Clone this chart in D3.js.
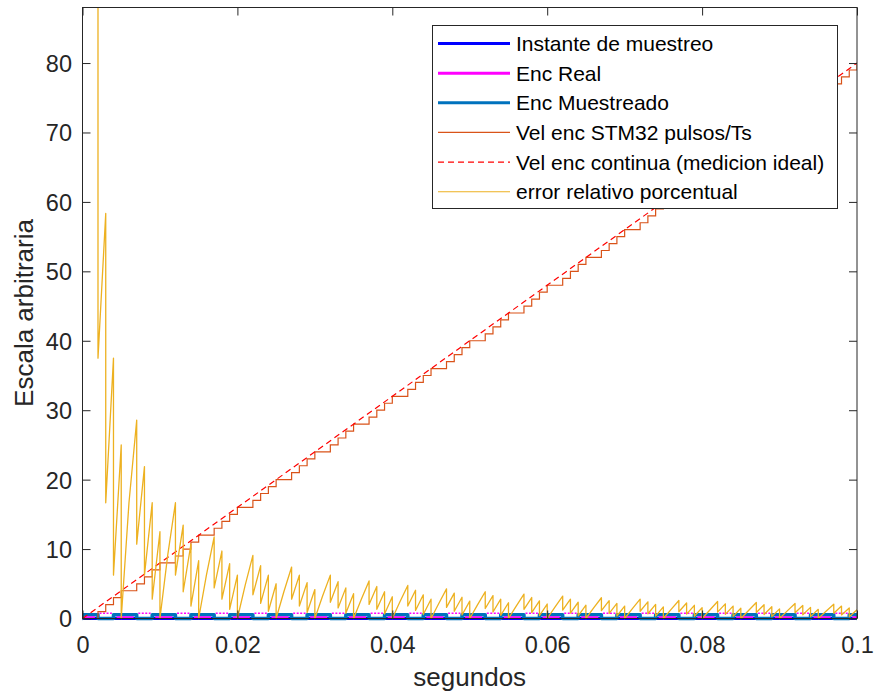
<!DOCTYPE html>
<html>
<head>
<meta charset="utf-8">
<script src="https://cdn.jsdelivr.net/npm/d3@7"></script>
<style>
  html, body { margin: 0; padding: 0; background: #fff; }
  svg { display: block; font-family: "Liberation Sans", Arial, Helvetica, sans-serif; }
</style>
</head>
<body>
<svg id="chart" width="875" height="694"></svg>
<script>
// ---- axis ticks ----
const xTicksMs = [0, 20, 40, 60, 80, 100];
const xTickLabels = ["0", "0.02", "0.04", "0.06", "0.08", "0.1"];
const yTicks = [0, 10, 20, 30, 40, 50, 60, 70, 80];
const yMax = 88;

// ---- series (time in ms, sample period 1 ms) ----
// STM32 velocity: pulses counted per sample period
const velSTM32 = [
  0, 0, 1, 2, 3,   4, 4, 5, 6, 7,   8, 8, 9, 10, 11,   12, 12, 13, 14, 15,
  16, 16, 17, 18, 19,   20, 20, 21, 22, 23,   24, 24, 25, 26, 27,   28, 28, 29, 30, 31,
  32, 32, 33, 34, 35,   36, 36, 37, 38, 39,   40, 40, 41, 42, 43,   44, 44, 45, 46, 47,
  48, 48, 49, 50, 51,   52, 52, 53, 54, 55,   56, 56, 57, 58, 59,   60, 60, 61, 62, 63,
  64, 64, 65, 66, 67,   68, 68, 69, 70, 71,   72, 72, 73, 74, 75,   76, 76, 77, 78, 79,
  80
];
const sampleStepMs = 1;

// Continuous (ideal) velocity
const idealTimeMs = [0, 100];
const idealVel = [0, 80];

// Relative error (%) between ideal and measured velocity
const errTimeMs = [
  0, 2, 2, 3, 3, 4, 4, 5,
  5, 6, 7, 7, 8, 8, 9, 9, 10,
  10, 11, 12, 12, 13, 13, 14, 14, 15,
  15, 16, 17, 17, 18, 18, 19, 19, 20,
  20, 21, 22, 22, 23, 23, 24, 24, 25,
  25, 26, 27, 27, 28, 28, 29, 29, 30,
  30, 31, 32, 32, 33, 33, 34, 34, 35,
  35, 36, 37, 37, 38, 38, 39, 39, 40,
  40, 41, 42, 42, 43, 43, 44, 44, 45,
  45, 46, 47, 47, 48, 48, 49, 49, 50,
  50, 51, 52, 52, 53, 53, 54, 54, 55,
  55, 56, 57, 57, 58, 58, 59, 59, 60,
  60, 61, 62, 62, 63, 63, 64, 64, 65,
  65, 66, 67, 67, 68, 68, 69, 69, 70,
  70, 71, 72, 72, 73, 73, 74, 74, 75,
  75, 76, 77, 77, 78, 78, 79, 79, 80,
  80, 81, 82, 82, 83, 83, 84, 84, 85,
  85, 86, 87, 87, 88, 88, 89, 89, 90,
  90, 91, 92, 92, 93, 93, 94, 94, 95,
  95, 96, 97, 97, 98, 98, 99, 99, 100
];
const errPct = [
  100, 100, 37.5, 58.33, 16.67, 37.5, 6.25, 25,
  0, 16.67, 28.57, 10.71, 21.88, 6.25, 16.67, 2.78, 12.5,
  0, 9.09, 16.67, 6.25, 13.46, 3.85, 10.71, 1.79, 8.33,
  0, 6.25, 11.76, 4.41, 9.72, 2.78, 7.89, 1.32, 6.25,
  0, 4.76, 9.09, 3.41, 7.61, 2.17, 6.25, 1.04, 5,
  0, 3.85, 7.41, 2.78, 6.25, 1.79, 5.17, 0.86, 4.17,
  0, 3.23, 6.25, 2.34, 5.30, 1.52, 4.41, 0.74, 3.57,
  0, 2.78, 5.41, 2.03, 4.61, 1.32, 3.85, 0.64, 3.13,
  0, 2.44, 4.76, 1.79, 4.07, 1.16, 3.41, 0.57, 2.78,
  0, 2.17, 4.26, 1.60, 3.65, 1.04, 3.06, 0.51, 2.5,
  0, 1.96, 3.85, 1.44, 3.30, 0.94, 2.78, 0.46, 2.27,
  0, 1.79, 3.51, 1.32, 3.02, 0.86, 2.54, 0.42, 2.08,
  0, 1.64, 3.23, 1.21, 2.78, 0.79, 2.34, 0.39, 1.92,
  0, 1.52, 2.99, 1.12, 2.57, 0.74, 2.17, 0.36, 1.79,
  0, 1.41, 2.78, 1.04, 2.40, 0.68, 2.03, 0.34, 1.67,
  0, 1.32, 2.60, 0.97, 2.24, 0.64, 1.90, 0.32, 1.56,
  0, 1.23, 2.44, 0.91, 2.11, 0.60, 1.79, 0.30, 1.47,
  0, 1.16, 2.30, 0.86, 1.99, 0.57, 1.69, 0.28, 1.39,
  0, 1.10, 2.17, 0.82, 1.88, 0.54, 1.60, 0.27, 1.32,
  0, 1.04, 2.06, 0.77, 1.79, 0.51, 1.52, 0.25, 1.25
];

// Encoder signals near zero (intervals in ms)
const muestreadoLevel = 0.55;
const muestreadoOn = [
  [0, 2], [4, 7], [9, 12], [14, 17], [19, 22], [24, 27], [29, 32], [34, 37],
  [39, 42], [44, 47], [49, 52], [54, 57], [59, 62], [64, 67], [69, 72], [74, 77],
  [79, 82], [84, 87], [89, 92], [94, 97], [99, 100]
];
const realLowLevel = 0.15;
const realLow = [
  [0.3, 1.6], [4.4, 6.6], [9.4, 11.6], [14.4, 16.6], [19.4, 21.6], [24.4, 26.6],
  [29.4, 31.6], [34.4, 36.6], [39.4, 41.6], [44.4, 46.6], [49.4, 51.6], [54.4, 56.6],
  [59.4, 61.6], [64.4, 66.6], [69.4, 71.6], [74.4, 76.6], [79.4, 81.6], [84.4, 86.6],
  [89.4, 91.6], [94.4, 96.6], [99.4, 100]
];
const realHighLevel = 0.75;
const realHigh = [
  [2.2, 3.8], [7.2, 8.8], [12.2, 13.8], [17.2, 18.8], [22.2, 23.8], [27.2, 28.8],
  [32.2, 33.8], [37.2, 38.8], [42.2, 43.8], [47.2, 48.8], [52.2, 53.8], [57.2, 58.8],
  [62.2, 63.8], [67.2, 68.8], [72.2, 73.8], [77.2, 78.8], [82.2, 83.8], [87.2, 88.8],
  [92.2, 93.8], [97.2, 98.8]
];

// ---- legend ----
const legendLabels = [
  "Instante de muestreo", "Enc Real", "Enc Muestreado",
  "Vel enc STM32 pulsos/Ts", "Vel enc continua (medicion ideal)", "error relativo porcentual"
];

// ---- layout ----
const plot = { left: 82.5, right: 857, top: 7.5, bottom: 618.5 };
const axisColor = "#262626";
const C = {
  instante: "#0000FF", real: "#FF00FF", muestreado: "#0072BD",
  stm32: "#D95319", ideal: "#FF0000", error: "#EDB120"
};

const svg = d3.select("#chart");
const x = d3.scaleLinear().domain([0, 100]).range([plot.left, plot.right]);
const y = d3.scaleLinear().domain([0, yMax]).range([plot.bottom, plot.top]);

svg.append("defs").append("clipPath").attr("id", "clip")
  .append("rect")
  .attr("x", plot.left).attr("y", plot.top)
  .attr("width", plot.right - plot.left)
  .attr("height", plot.bottom - plot.top + 3);

const g = svg.append("g").attr("clip-path", "url(#clip)");
const line = d3.line().x(d => x(d[0])).y(d => y(d[1]));

// Sampling instants baseline
g.append("path")
  .attr("d", line([[0, 0], [100, 0]]))
  .attr("fill", "none").attr("stroke", C.instante).attr("stroke-width", 3);

// Encoder real: dashes at the high level
realHigh.forEach(([a, b]) => {
  g.append("path")
    .attr("d", line([[a, realHighLevel], [b, realHighLevel]]))
    .attr("fill", "none").attr("stroke", C.real).attr("stroke-width", 1.4)
    .attr("stroke-dasharray", "2,1.5");
});

// Encoder sampled square wave
const mPts = [[0, 0]];
muestreadoOn.forEach(([a, b]) => {
  mPts.push([a, 0], [a, muestreadoLevel], [b, muestreadoLevel], [b, 0]);
});
mPts.push([100, 0]);
g.append("path")
  .attr("d", line(mPts))
  .attr("fill", "none").attr("stroke", C.muestreado).attr("stroke-width", 3.5)
  .attr("stroke-linejoin", "round").attr("stroke-linecap", "round");

// Encoder real: thick segments at the low level
realLow.forEach(([a, b]) => {
  g.append("path")
    .attr("d", line([[a, realLowLevel], [b, realLowLevel]]))
    .attr("fill", "none").attr("stroke", C.real).attr("stroke-width", 2.5);
});

// STM32 velocity staircase
g.append("path")
  .datum(velSTM32.map((v, i) => [i * sampleStepMs, v]))
  .attr("d", d3.line().x(d => x(d[0])).y(d => y(d[1])).curve(d3.curveStepAfter))
  .attr("fill", "none").attr("stroke", C.stm32).attr("stroke-width", 1.2);

// Ideal velocity
g.append("path")
  .attr("d", line(idealTimeMs.map((t, i) => [t, idealVel[i]])))
  .attr("fill", "none").attr("stroke", C.ideal).attr("stroke-width", 1.2)
  .attr("stroke-dasharray", "6,4");

// Relative error
g.append("path")
  .attr("d", line(errTimeMs.map((t, i) => [t, errPct[i]])))
  .attr("fill", "none").attr("stroke", C.error).attr("stroke-width", 1.3)
  .attr("stroke-linejoin", "round");

// ---- axes ----
const tickFont = 23.5;
const xAxis = svg.append("g").attr("transform", `translate(0,${plot.bottom})`)
  .call(d3.axisBottom(x).tickValues(xTicksMs).tickSize(-8).tickPadding(18)
    .tickFormat((d, i) => xTickLabels[i]));
const yAxis = svg.append("g").attr("transform", `translate(${plot.left},0)`)
  .call(d3.axisLeft(y).tickValues(yTicks).tickSize(-8).tickPadding(10.5)
    .tickFormat(d3.format("d")));
const xTop = svg.append("g").attr("transform", `translate(0,${plot.top})`)
  .call(d3.axisTop(x).tickValues(xTicksMs).tickSize(-8).tickFormat(""));
const yRight = svg.append("g").attr("transform", `translate(${plot.right},0)`)
  .call(d3.axisRight(y).tickValues(yTicks).tickSize(-8).tickFormat(""));

[xAxis, yAxis, xTop, yRight].forEach(a => {
  a.select(".domain").remove();
  a.selectAll(".tick line").attr("stroke", axisColor).attr("stroke-width", 1);
  a.selectAll("text").attr("fill", axisColor)
    .style("font-size", tickFont + "px")
    .style("font-family", "'Liberation Sans', Arial, sans-serif");
});
yAxis.selectAll("text").attr("dy", "0.36em");

svg.append("rect")
  .attr("x", plot.left).attr("y", plot.top)
  .attr("width", plot.right - plot.left).attr("height", plot.bottom - plot.top)
  .attr("fill", "none").attr("stroke", axisColor).attr("stroke-width", 1);

// axis titles
svg.append("text")
  .attr("x", (plot.left + plot.right) / 2).attr("y", 686)
  .attr("text-anchor", "middle").attr("fill", axisColor)
  .style("font-size", "26px").text("segundos");
svg.append("text")
  .attr("transform", `translate(33,${(plot.top + plot.bottom) / 2}) rotate(-90)`)
  .attr("text-anchor", "middle").attr("fill", axisColor)
  .style("font-size", "26px").text("Escala arbitraria");

// ---- legend ----
const legend = svg.append("g");
legend.append("rect")
  .attr("x", 432.5).attr("y", 25.5).attr("width", 405).attr("height", 183)
  .attr("fill", "#fff").attr("stroke", axisColor).attr("stroke-width", 1);
const legendStyles = [
  { c: C.instante, w: 3, dash: null },
  { c: C.real, w: 3, dash: null },
  { c: C.muestreado, w: 3, dash: null },
  { c: C.stm32, w: 1.2, dash: null },
  { c: C.ideal, w: 1.2, dash: "6,4" },
  { c: C.error, w: 1.2, dash: null }
];
legendLabels.forEach((lab, i) => {
  const cy = 43.5 + i * 29.65;
  const st = legendStyles[i];
  legend.append("line")
    .attr("x1", 438).attr("x2", 510).attr("y1", cy).attr("y2", cy)
    .attr("stroke", st.c).attr("stroke-width", st.w)
    .attr("stroke-dasharray", st.dash);
  legend.append("text")
    .attr("x", 516).attr("y", cy + 7.6)
    .attr("fill", "#000").style("font-size", "21px").text(lab);
});
</script>
</body>
</html>
